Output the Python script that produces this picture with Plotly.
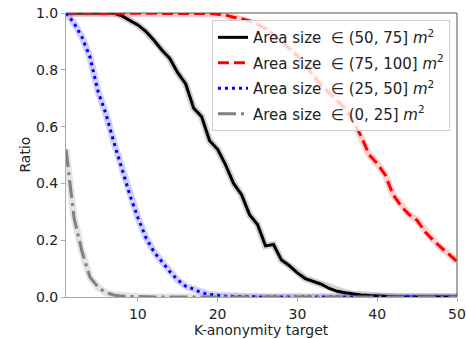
import plotly.graph_objects as go

k_values = list(range(1, 51))

ratio_50_75 = [1.0, 1.0, 1.0, 1.0, 1.0, 1.0, 1.0, 0.99, 0.975, 0.958,
               0.935, 0.905, 0.87, 0.84, 0.79, 0.75, 0.665, 0.635, 0.55, 0.52,
               0.465, 0.40, 0.36, 0.29, 0.255, 0.18, 0.185, 0.13, 0.11, 0.085,
               0.065, 0.055, 0.045, 0.03, 0.02, 0.015, 0.01, 0.007, 0.005, 0.003,
               0.002, 0.001, 0.0, 0.0, 0.0, 0.0, 0.0, 0.0, 0.0, 0.0]

ratio_75_100 = [1.0, 1.0, 1.0, 1.0, 1.0, 1.0, 1.0, 1.0, 1.0, 1.0,
                1.0, 1.0, 1.0, 1.0, 1.0, 1.0, 1.0, 0.999, 0.998, 0.996,
                0.993, 0.985, 0.98, 0.972, 0.96, 0.945, 0.925, 0.90, 0.875, 0.85,
                0.815, 0.78, 0.745, 0.72, 0.69, 0.665, 0.62, 0.565, 0.5, 0.47,
                0.43, 0.36, 0.32, 0.29, 0.27, 0.23, 0.2, 0.175, 0.15, 0.125]

ratio_25_50 = [1.0, 0.965, 0.915, 0.845, 0.725, 0.645, 0.545, 0.45, 0.36, 0.28,
               0.21, 0.16, 0.125, 0.09, 0.06, 0.038, 0.028, 0.015, 0.009, 0.005,
               0.003, 0.002, 0.001, 0.0, 0.0, 0.0, 0.0, 0.0, 0.0, 0.0,
               0.0, 0.0, 0.0, 0.0, 0.0, 0.0, 0.0, 0.0, 0.0, 0.0,
               0.0, 0.0, 0.0, 0.0, 0.0, 0.0, 0.0, 0.0, 0.0, 0.0]

ratio_0_25 = [0.52, 0.28, 0.16, 0.07, 0.035, 0.015, 0.007, 0.003, 0.002, 0.001,
              0.0, 0.0, 0.0, 0.0, 0.0, 0.0, 0.0, 0.0, 0.0, 0.0,
              0.0, 0.0, 0.0, 0.0, 0.0, 0.0, 0.0, 0.0, 0.0, 0.0,
              0.0, 0.0, 0.0, 0.0, 0.0, 0.0, 0.0, 0.0, 0.0, 0.0,
              0.0, 0.0, 0.0, 0.0, 0.0, 0.0, 0.0, 0.0, 0.0, 0.0]

labels = ["Area size  ∈ (50, 75] <i>m</i><sup>2</sup>",
          "Area size  ∈ (75, 100] <i>m</i><sup>2</sup>",
          "Area size  ∈ (25, 50] <i>m</i><sup>2</sup>",
          "Area size  ∈ (0, 25] <i>m</i><sup>2</sup>"]

x_title = "K-anonymity target"
y_title = "Ratio"

x_ticks = [10, 20, 30, 40, 50]
y_ticks = [0.0, 0.2, 0.4, 0.6, 0.8, 1.0]
y_tick_text = ["0.0", "0.2", "0.4", "0.6", "0.8", "1.0"]

series = [
    (ratio_50_75, "black", "rgba(0,0,0,0.18)", "solid"),
    (ratio_75_100, "red", "rgba(255,0,0,0.18)", "11px,5px"),
    (ratio_25_50, "blue", "rgba(0,0,255,0.18)", "3px,4px"),
    (ratio_0_25, "gray", "rgba(128,128,128,0.22)", "18px,5px,3px,5px"),
]

fig = go.Figure()

for vals, col, halo, dash in series:
    fig.add_trace(go.Scatter(x=k_values, y=vals, mode="lines",
                             line=dict(color=halo, width=7),
                             showlegend=False, hoverinfo="skip"))

for i, (vals, col, halo, dash) in enumerate(series):
    fig.add_trace(go.Scatter(x=k_values, y=vals, mode="lines", name=labels[i],
                             line=dict(color=col, width=3, dash=dash),
                             legendgroup=str(i)))

fig.update_layout(
    width=466, height=339,
    margin=dict(l=66, r=9, t=13, b=42, autoexpand=False),
    paper_bgcolor="white", plot_bgcolor="white",
    font=dict(family="DejaVu Sans", size=14, color="#222"),
    legend=dict(x=0.982, y=0.975, xanchor="right", yanchor="top",
                bgcolor="rgba(255,255,255,0.8)", bordercolor="#d0d0d0",
                borderwidth=1, font=dict(size=15, color="#222"),
                tracegroupgap=3),
    shapes=[
        dict(type="line", xref="paper", yref="paper", x0=0, x1=1, y0=1, y1=1,
             line=dict(color="#555", width=1)),
        dict(type="line", xref="paper", yref="paper", x0=1, x1=1, y0=0, y1=1,
             line=dict(color="#555", width=1)),
    ],
    annotations=[
        dict(text=x_title, xref="paper", yref="paper", x=0.5, y=-0.116,
             xanchor="center", yanchor="middle", showarrow=False,
             font=dict(size=14, color="#222")),
        dict(text=y_title, xref="paper", yref="paper", x=-0.106, y=0.5,
             xanchor="center", yanchor="middle", showarrow=False, textangle=-90,
             font=dict(size=14, color="#222")),
    ],
)

fig.update_xaxes(range=[1, 50], tickvals=x_ticks, showgrid=False, zeroline=False,
                 showline=True, linecolor="#aaa", linewidth=1,
                 ticks="outside", ticklen=4, tickcolor="#aaa",
                 automargin=False, ticklabeloverflow="allow")
fig.update_yaxes(range=[0, 1], tickvals=y_ticks, ticktext=y_tick_text,
                 showgrid=False, zeroline=False,
                 showline=True, linecolor="#aaa", linewidth=1,
                 ticks="outside", ticklen=4, tickcolor="#aaa",
                 automargin=False)

fig.write_html("out.html", config={"displayModeBar": False},
               post_script="document.body.style.margin='0';document.body.style.overflow='hidden';")
